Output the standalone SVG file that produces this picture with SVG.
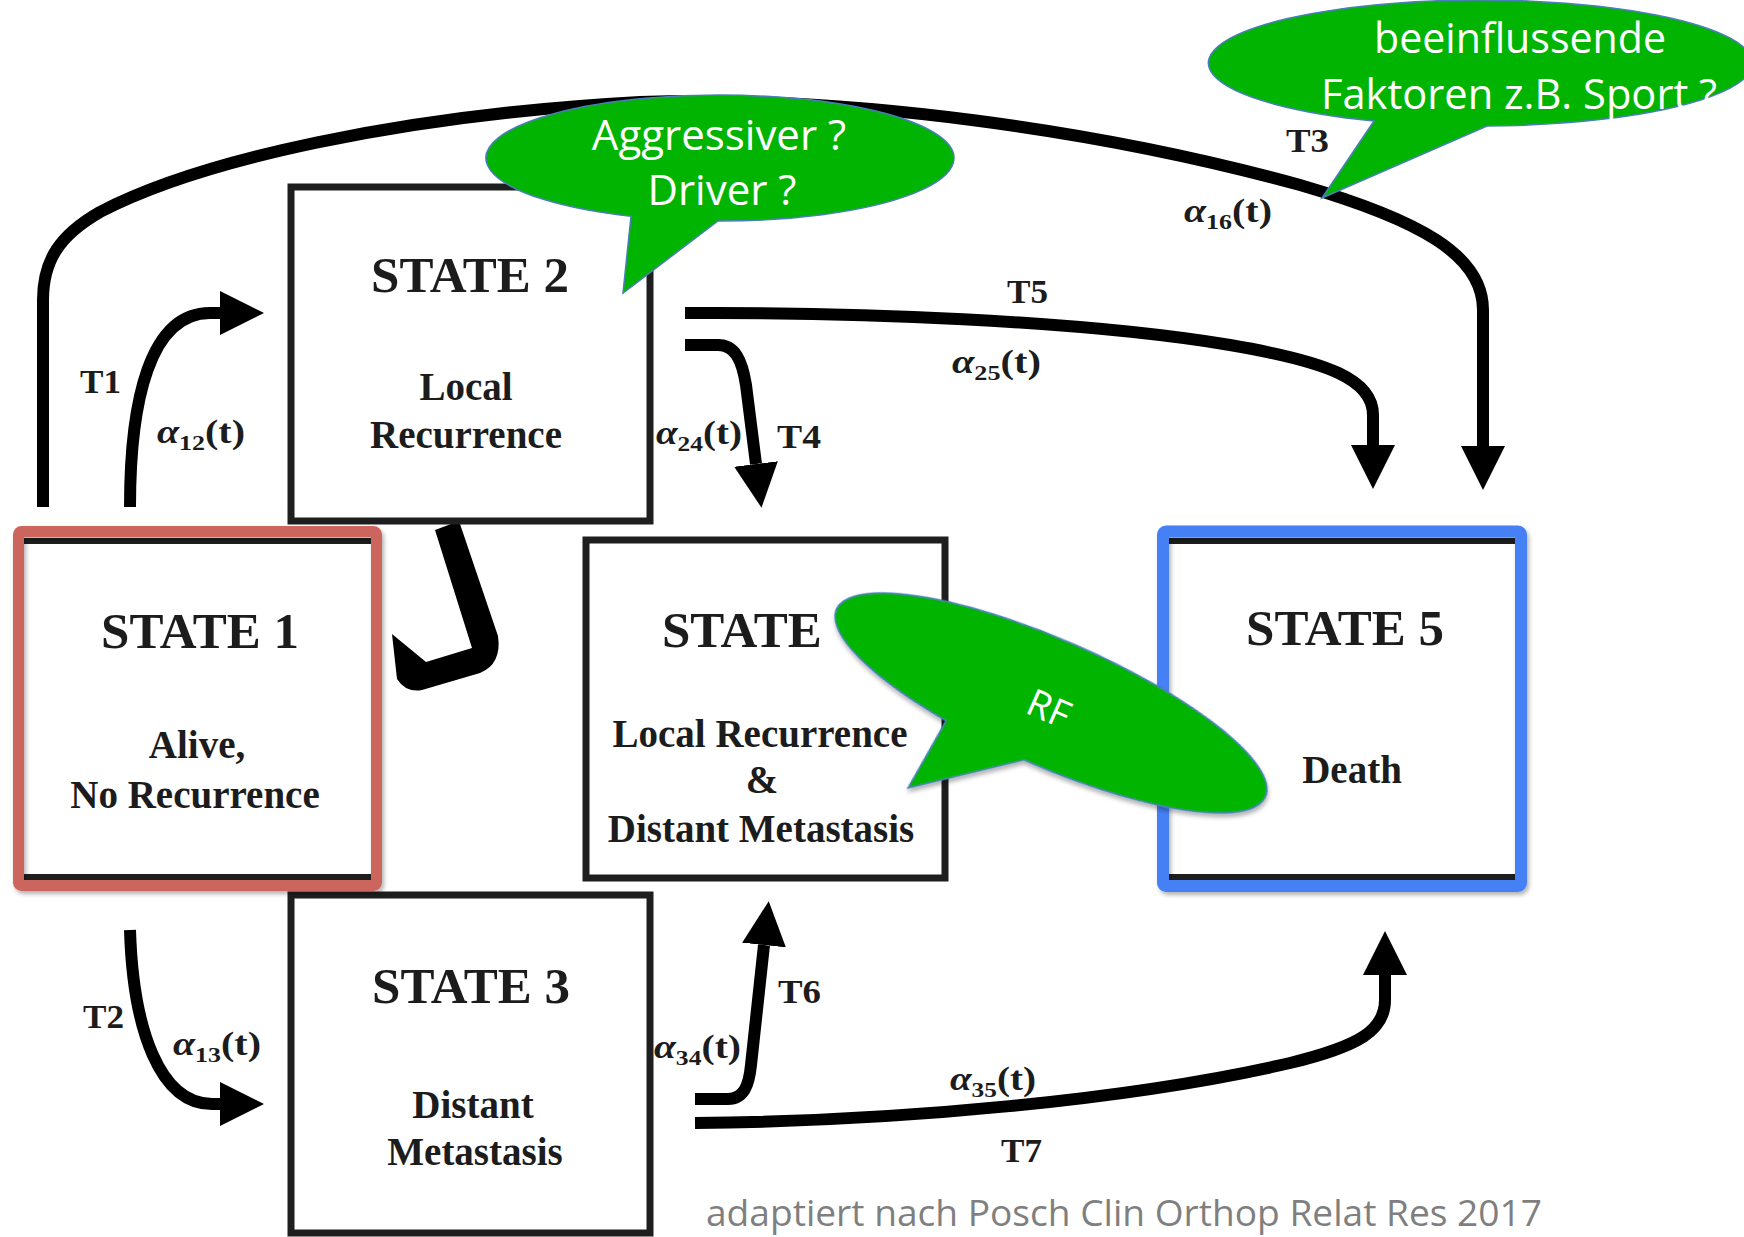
<svg xmlns="http://www.w3.org/2000/svg" width="1744" height="1237" viewBox="0 0 1744 1237">
  <style>
    .box { fill: #ffffff; stroke: #1e1e1e; stroke-width: 7; }
    .inner { fill: #ffffff; stroke: #1e1e1e; stroke-width: 6; }
    .title { font-family: "Liberation Serif", "Times New Roman", serif; font-weight: bold; font-size: 51px; fill: #1c1c1c; text-anchor: middle; }
    .sub { font-family: "Liberation Serif", "Times New Roman", serif; font-weight: bold; font-size: 39px; fill: #1c1c1c; text-anchor: middle; }
    .lbl { font-family: "Liberation Serif", "Times New Roman", serif; font-weight: bold; font-size: 34px; fill: #1c1c1c; }
    .greek { font-style: italic; }
    .conn { fill: none; stroke: #000; stroke-width: 12; marker-end: url(#ah); }
    .bubble { fill: #02b402; stroke: #4a7ebb; stroke-width: 1.5; }
    .btxt { font-family: "Open Sans", "Liberation Sans", sans-serif; font-size: 42px; fill: #ffffff; text-anchor: middle; }
    .cap { font-family: "Open Sans", "Liberation Sans", sans-serif; font-size: 36px; fill: #7f7f7f; }
  </style>
  <defs>
    <marker id="ah" markerUnits="userSpaceOnUse" viewBox="0 -22 44 44" refX="0" refY="0" markerWidth="44" markerHeight="44" orient="auto">
      <path d="M0,-22 L44,0 L0,22 z" fill="#000"/>
    </marker>
    <filter id="sh" x="-10%" y="-10%" width="120%" height="130%">
      <feDropShadow dx="2" dy="3" stdDeviation="2" flood-color="#000" flood-opacity="0.3"/>
    </filter>
    <path id="callout" d="M -2 63 A 234 63 0 1 0 -89 58.27 L -97 135 Z"/>
  </defs>

  <rect x="0" y="0" width="1744" height="1237" fill="#ffffff"/>

  <g id="connectors">
    <!-- T3: state1 -> state5 -->
    <path class="conn" d="M 43 507 L 43 300 C 43 260, 60 235, 100 212 C 200 160, 400 115, 640 102 C 850 95, 1100 130, 1300 185 C 1420 220, 1483 255, 1483 310 L 1483 446"/>
    <!-- T1: state1 -> state2 -->
    <path class="conn" d="M 130 507 C 130 400, 150 313, 210 313 L 220 313"/>
    <!-- T2: state1 -> state3 -->
    <path class="conn" d="M 130 930 C 133 1030, 160 1104, 212 1104 L 220 1104"/>
    <!-- T5: state2 -> state5 -->
    <path class="conn" d="M 685 313 C 850 312, 1080 320, 1230 345 C 1330 362, 1373 380, 1373 415 L 1373 445"/>
    <!-- T4: state2 -> state4 -->
    <path class="conn" d="M 685 345 L 718 345 C 735 345, 742 360, 746 385 L 756 464"/>
    <!-- T6: state3 -> state4 -->
    <path class="conn" d="M 695 1099 L 728 1099 C 744 1099, 749 1085, 751 1065 L 764 945"/>
    <!-- T7: state3 -> state5 -->
    <path class="conn" d="M 695 1123 C 900 1121, 1130 1100, 1290 1063 C 1360 1046, 1385 1030, 1385 1000 L 1385 975"/>
    <!-- bent stroke between state 2 and state 1 -->
    <path d="M 435 530 L 459 521 L 498 636 Q 502 664 480 673 L 422 690 Q 406 693 397 679 L 392 634 L 426 662 L 472 648 Z" fill="#000"/>

    <text class="lbl" x="80" y="393" textLength="41" lengthAdjust="spacingAndGlyphs">T1</text>
    <text class="lbl" x="157" y="443" textLength="88" lengthAdjust="spacingAndGlyphs"><tspan class="greek">α</tspan><tspan font-size="22" dy="7">12</tspan><tspan dy="-7">(t)</tspan></text>
    <text class="lbl" x="83" y="1028" textLength="41" lengthAdjust="spacingAndGlyphs">T2</text>
    <text class="lbl" x="173" y="1055" textLength="88" lengthAdjust="spacingAndGlyphs"><tspan class="greek">α</tspan><tspan font-size="22" dy="7">13</tspan><tspan dy="-7">(t)</tspan></text>
    <text class="lbl" x="1286" y="152" textLength="43" lengthAdjust="spacingAndGlyphs">T3</text>
    <text class="lbl" x="1184" y="222" textLength="88" lengthAdjust="spacingAndGlyphs"><tspan class="greek">α</tspan><tspan font-size="22" dy="7">16</tspan><tspan dy="-7">(t)</tspan></text>
    <text class="lbl" x="1007" y="303" textLength="41" lengthAdjust="spacingAndGlyphs">T5</text>
    <text class="lbl" x="952" y="373" textLength="89" lengthAdjust="spacingAndGlyphs"><tspan class="greek">α</tspan><tspan font-size="22" dy="7">25</tspan><tspan dy="-7">(t)</tspan></text>
    <text class="lbl" x="656" y="444" textLength="86" lengthAdjust="spacingAndGlyphs"><tspan class="greek">α</tspan><tspan font-size="22" dy="7">24</tspan><tspan dy="-7">(t)</tspan></text>
    <text class="lbl" x="777" y="448" textLength="44" lengthAdjust="spacingAndGlyphs">T4</text>
    <text class="lbl" x="778" y="1003" textLength="43" lengthAdjust="spacingAndGlyphs">T6</text>
    <text class="lbl" x="654" y="1058" textLength="87" lengthAdjust="spacingAndGlyphs"><tspan class="greek">α</tspan><tspan font-size="22" dy="7">34</tspan><tspan dy="-7">(t)</tspan></text>
    <text class="lbl" x="950" y="1090" textLength="86" lengthAdjust="spacingAndGlyphs"><tspan class="greek">α</tspan><tspan font-size="22" dy="7">35</tspan><tspan dy="-7">(t)</tspan></text>
    <text class="lbl" x="1001" y="1162" textLength="41" lengthAdjust="spacingAndGlyphs">T7</text>
  </g>

  <g id="state2">
    <rect class="box" x="291" y="187" width="359" height="334"/>
    <text class="title" x="470" y="292">STATE 2</text>
    <text class="sub" x="466" y="400">Local</text>
    <text class="sub" x="466" y="448">Recurrence</text>
  </g>

  <g id="state3">
    <rect class="box" x="291" y="895" width="359" height="338"/>
    <text class="title" x="471" y="1003">STATE 3</text>
    <text class="sub" x="473" y="1118">Distant</text>
    <text class="sub" x="475" y="1165">Metastasis</text>
  </g>

  <g id="state1">
    <rect class="inner" x="20" y="541" width="354" height="336"/>
    <rect x="18.5" y="531.5" width="358" height="354" rx="3" fill="none" stroke="#cd655f" stroke-width="11" filter="url(#sh)"/>
    <text class="title" x="200" y="648">STATE 1</text>
    <text class="sub" x="197" y="758">Alive,</text>
    <text class="sub" x="195" y="808">No Recurrence</text>
  </g>

  <g id="state4">
    <rect class="box" x="586" y="540" width="359" height="338"/>
    <text class="title" x="662" y="647" style="text-anchor:start">STATE</text>
    <text class="sub" x="760" y="747">Local Recurrence</text>
    <text class="sub" x="762" y="793">&amp;</text>
    <text class="sub" x="761" y="842">Distant Metastasis</text>
  </g>

  <g id="state5">
    <rect class="inner" x="1166" y="541" width="352" height="336"/>
    <rect x="1163" y="531.5" width="358" height="354.5" rx="3" fill="none" stroke="#4580f4" stroke-width="12" filter="url(#sh)"/>
    <text class="title" x="1345" y="645">STATE 5</text>
    <text class="sub" x="1352" y="783">Death</text>
  </g>

  <g id="bubble-aggressiver">
    <use href="#callout" class="bubble" transform="translate(720 158)"/>
    <text class="btxt" x="719" y="150">Aggressiver ?</text>
    <text class="btxt" x="722" y="205">Driver ?</text>
  </g>

  <g id="bubble-faktoren">
    <path class="bubble" d="M 1487 126 A 272 63 0 1 0 1374 121 L 1322 198 Z"/>
    <text class="btxt" x="1520" y="53" textLength="292" lengthAdjust="spacingAndGlyphs">beeinflussende</text>
    <text class="btxt" x="1519" y="109" textLength="396" lengthAdjust="spacingAndGlyphs">Faktoren z.B. Sport ?</text>
  </g>

  <g id="bubble-rf">
    <use href="#callout" class="bubble" transform="translate(1051 703) rotate(23.6)" filter="url(#sh)"/>
    <text class="btxt" x="1049" y="722" style="font-size:38px" transform="rotate(23.6 1049 708)">RF</text>
  </g>

  <text class="cap" x="706" y="1226" textLength="836" lengthAdjust="spacingAndGlyphs">adaptiert nach Posch Clin Orthop Relat Res 2017</text>
</svg>
